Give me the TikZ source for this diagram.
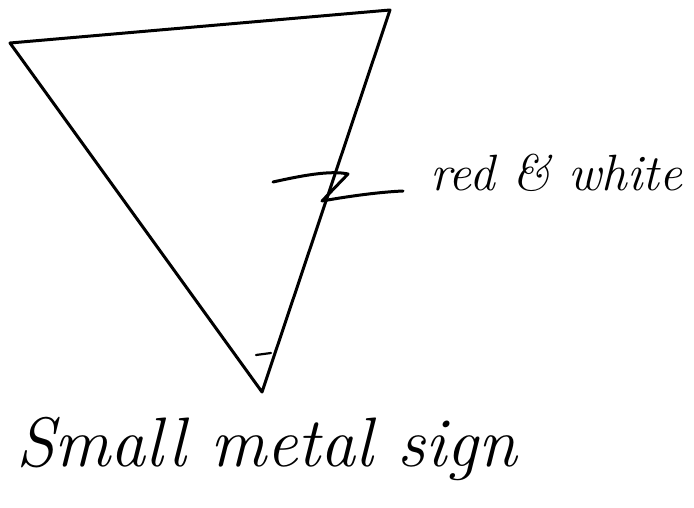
\documentclass[tikz,border=0pt]{standalone}
\usepackage{fontspec}
\setmainfont{Latin Modern Roman}
\begin{document}
\begin{tikzpicture}[x=1pt,y=-1pt,
  ink/.style={draw=black,line width=3pt,line cap=round,line join=round},
  hand/.style={font=\fontsize{70}{76}\selectfont\itshape,inner sep=0pt,anchor=base west}]
\useasboundingbox (0,0) rectangle (694,508);
% triangle
\coordinate (tl) at (10,43);
\coordinate (tr) at (390,10);
\coordinate (bt) at (262,392);
\draw[ink] (tl) -- (tr) -- (bt) -- cycle;
% tick near bottom
\coordinate (tk1) at (256,355);
\coordinate (tk2) at (271,353);
\draw[ink,line width=2.2pt] (tk1) -- (tk2);
% label red & white
\node[hand,font=\fontsize{51}{56}\selectfont\itshape] (rw) at (430,190) {red \& white};
\coordinate (l0) at (273,182);
\coordinate (l1) at (348,174);
\coordinate (l2) at (322,201);
\coordinate (l3) at (403,191);
\draw[ink] (l0) .. controls (300,176) and (330,170) .. (l1) -- (l2) .. controls (350,196) and (380,192) .. (l3);
% label small metal sign
\node[hand] (sm) at (16,466) {Small metal sign};
\end{tikzpicture}
\end{document}
